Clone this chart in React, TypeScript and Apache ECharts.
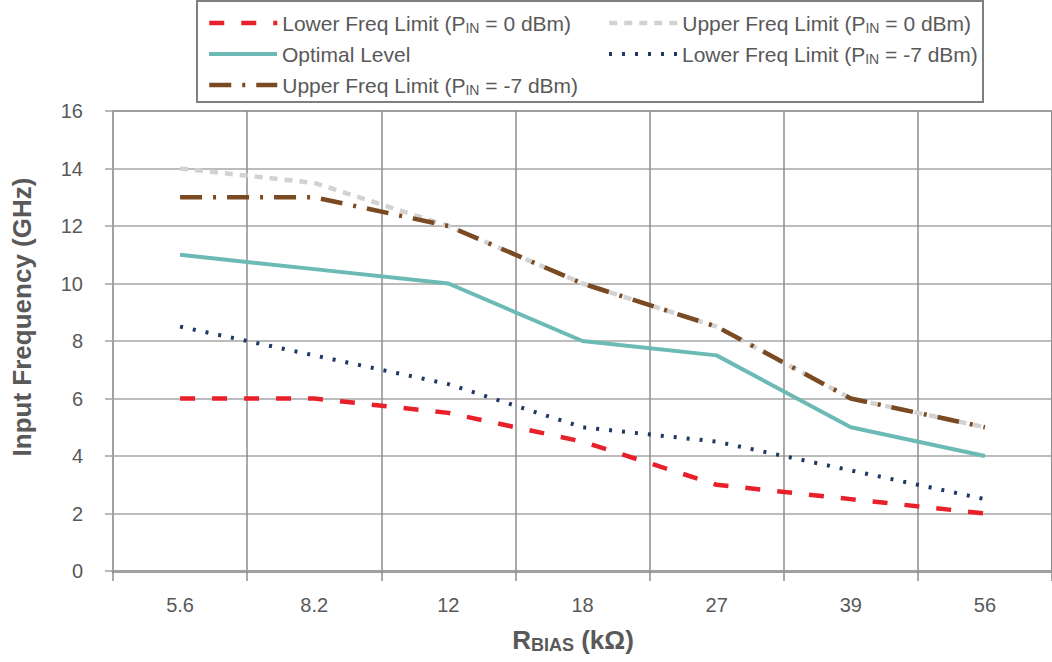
import React, { useEffect, useRef } from "react";
import * as echarts from "echarts";

const categories = ["5.6", "8.2", "12", "18", "27", "39", "56"];
const lowerFreq0 = [6, 6, 5.5, 4.5, 3, 2.5, 2];
const upperFreq0 = [14, 13.5, 12, 10, 8.5, 6, 5];
const optimalLevel = [11, 10.5, 10, 8, 7.5, 5, 4];
const lowerFreq7 = [8.5, 7.5, 6.5, 5, 4.5, 3.5, 2.5];
const upperFreq7 = [13, 13, 12, 10, 8.5, 6, 5];
const yTicks = { min: 0, max: 16, interval: 2 };

const N_L0 = "Lower Freq Limit (PIN = 0 dBm)";
const N_U0 = "Upper Freq Limit (PIN = 0 dBm)";
const N_OPT = "Optimal Level";
const N_L7 = "Lower Freq Limit (PIN = -7 dBm)";
const N_U7 = "Upper Freq Limit (PIN = -7 dBm)";

const FONT = "'Liberation Sans', Arial, sans-serif";
const TXT = "#595959";

export default function App() {
  const ref = useRef<HTMLDivElement>(null);
  useEffect(() => {
    if (!ref.current) return;
    const chart = echarts.init(ref.current, null, { renderer: "svg" });
    const legendText = {
      fontSize: 21,
      fontFamily: FONT,
      color: TXT,
      lineHeight: 24,
      rich: {
        s: { fontSize: 14, lineHeight: 14, verticalAlign: "bottom", fontFamily: FONT, color: TXT },
      },
    };
    const fmt = (n: string) => n.replace("PIN", "P{s|IN}");
    const mkLegend = (name: string, left: number, top: number, width: number) => ({
      data: [name],
      left,
      top,
      padding: 0,
      itemWidth: 68,
      itemHeight: 14,
      formatter: fmt,
      textStyle: legendText,
      itemStyle: { opacity: 0 },
      lineStyle: { width },
      selectedMode: false,
    });
    const line = (name: string, data: number[], color: string, width: number, type: any) => ({
      name,
      type: "line",
      data,
      symbol: "none",
      lineStyle: { color, width, type, cap: "butt" },
      itemStyle: { color },
    });
    chart.setOption({
      animation: false,
      backgroundColor: "#ffffff",
      textStyle: { fontFamily: FONT },
      grid: {
        left: 113,
        top: 111,
        right: -5,
        bottom: 91,
        show: true,
        borderColor: "#8c8c8c",
        borderWidth: 2,
      },
      legend: [
        mkLegend(N_L0, 207, 11, 4.5),
        mkLegend(N_OPT, 207, 42, 4),
        mkLegend(N_U7, 207, 73, 4.5),
        mkLegend(N_U0, 607, 11, 4.5),
        mkLegend(N_L7, 607, 42, 4),
      ],
      xAxis: {
        type: "category",
        data: categories,
        boundaryGap: true,
        axisLine: { show: true, lineStyle: { color: "#a0a0a0", width: 3 } },
        axisTick: { show: true, length: 10, interval: 0, lineStyle: { color: "#8c8c8c", width: 1.5 } },
        axisLabel: { fontSize: 20, color: TXT, margin: 24, fontFamily: FONT, interval: 0 },
        splitLine: { show: true, interval: 0, lineStyle: { color: "#8c8c8c", width: 1.5 } },
      },
      yAxis: {
        type: "value",
        min: yTicks.min,
        max: yTicks.max,
        interval: yTicks.interval,
        axisLine: { show: true, lineStyle: { color: "#a0a0a0", width: 2 } },
        axisTick: { show: true, length: 8, lineStyle: { color: "#a0a0a0", width: 1.5 } },
        axisLabel: { fontSize: 20, color: TXT, margin: 30, fontFamily: FONT },
        splitLine: { show: true, lineStyle: { color: "#a6a6a6", width: 1.5 } },
      },
      graphic: [
        {
          type: "rect",
          shape: { x: 197, y: 1, width: 786, height: 101 },
          style: { fill: "none", stroke: "#7f7f7f", lineWidth: 2 },
          silent: true,
        },
        {
          type: "text",
          x: 22,
          y: 317,
          rotation: Math.PI / 2,
          style: {
            text: "Input Frequency (GHz)",
            fontSize: 26,
            fontWeight: "bold",
            fontFamily: FONT,
            fill: TXT,
            align: "center",
            verticalAlign: "middle",
          },
        },
        {
          type: "text",
          x: 573,
          y: 640,
          style: {
            text: "R{s|BIAS} (kΩ)",
            fontSize: 26,
            fontWeight: "bold",
            fontFamily: FONT,
            fill: TXT,
            align: "center",
            verticalAlign: "middle",
            lineHeight: 28,
            rich: {
              s: { fontSize: 18, fontWeight: "bold", fontFamily: FONT, fill: TXT, lineHeight: 18, verticalAlign: "bottom" },
            },
          },
        },
      ],
      series: [
        line(N_L0, lowerFreq0, "#e8202a", 4.5, [15, 17]),
        line(N_U0, upperFreq0, "#d2d2d2", 4.5, [8, 7]),
        line(N_OPT, optimalLevel, "#6bbab6", 4, "solid"),
        line(N_L7, lowerFreq7, "#1f3864", 4, [3, 10]),
        line(N_U7, upperFreq7, "#7a4a22", 4.5, [22, 11, 3, 11]),
      ],
    });
    return () => chart.dispose();
  }, []);
  return (
    <div
      ref={ref}
      style={{ position: "fixed", left: 0, top: 0, width: 1052, height: 662 }}
    />
  );
}
